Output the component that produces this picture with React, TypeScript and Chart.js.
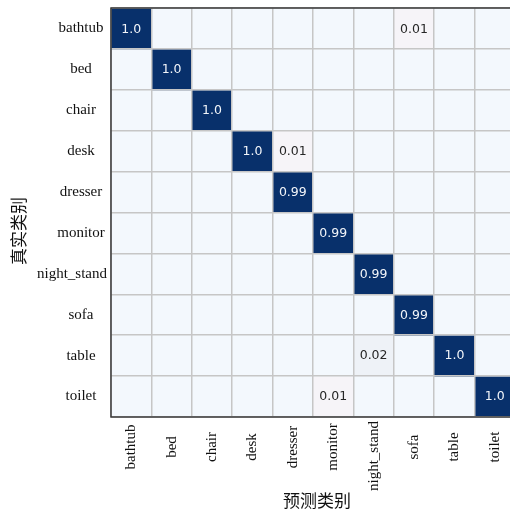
import { useEffect, useRef } from "react";
import { Chart, registerables } from "chart.js";

Chart.register(...registerables);

// Class names, shared by predicted (columns) and true (rows) axes
const classes = [
  "bathtub",
  "bed",
  "chair",
  "desk",
  "dresser",
  "monitor",
  "night_stand",
  "sofa",
  "table",
  "toilet",
];

// Normalised confusion matrix, one row per true class
const bathtubRow = [1.0, 0, 0, 0, 0, 0, 0, 0.01, 0, 0];
const bedRow = [0, 1.0, 0, 0, 0, 0, 0, 0, 0, 0];
const chairRow = [0, 0, 1.0, 0, 0, 0, 0, 0, 0, 0];
const deskRow = [0, 0, 0, 1.0, 0.01, 0, 0, 0, 0, 0];
const dresserRow = [0, 0, 0, 0, 0.99, 0, 0, 0, 0, 0];
const monitorRow = [0, 0, 0, 0, 0, 0.99, 0, 0, 0, 0];
const nightStandRow = [0, 0, 0, 0, 0, 0, 0.99, 0, 0, 0];
const sofaRow = [0, 0, 0, 0, 0, 0, 0, 0.99, 0, 0];
const tableRow = [0, 0, 0, 0, 0, 0, 0.02, 0, 1.0, 0];
const toiletRow = [0, 0, 0, 0, 0, 0.01, 0, 0, 0, 1.0];

const confusionRows = [
  bathtubRow,
  bedRow,
  chairRow,
  deskRow,
  dresserRow,
  monitorRow,
  nightStandRow,
  sofaRow,
  tableRow,
  toiletRow,
];

const xTitle = "预测类别";
const yTitle = "真实类别";

function cellColor(v: number): string {
  if (v >= 0.5) return "#08306b";
  if (v >= 0.02) return "#eef2f7";
  if (v > 0) return "#f6f4f8";
  return "#f3f8fd";
}

function formatValue(v: number): string {
  return Number.isInteger(v) ? v.toFixed(1) : String(v);
}

const labelFont = '15px "Liberation Serif", "Times New Roman", serif';
const cellFont = '12.5px "DejaVu Sans", sans-serif';
const titleFont = '17px "Noto Sans CJK SC", sans-serif';

const matrixDecor = {
  id: "matrixDecor",
  afterDraw(chart: any) {
    const { ctx, chartArea, scales } = chart;
    const xs = scales.x;
    const ys = scales.y;
    ctx.save();

    // cell value annotations
    ctx.font = cellFont;
    ctx.textAlign = "center";
    ctx.textBaseline = "middle";
    confusionRows.forEach((row, r) => {
      const meta = chart.getDatasetMeta(r);
      row.forEach((v, c) => {
        if (v <= 0) return;
        const pt = meta.data[c].getCenterPoint();
        ctx.fillStyle = v >= 0.5 ? "#f2f5f9" : "#262626";
        ctx.fillText(formatValue(v), pt.x, pt.y + 0.5);
      });
    });

    // frame
    ctx.strokeStyle = "#3a3a3a";
    ctx.lineWidth = 1.5;
    ctx.strokeRect(
      chartArea.left,
      chartArea.top,
      chartArea.right - chartArea.left,
      chartArea.bottom - chartArea.top
    );

    // row labels (true classes)
    ctx.font = labelFont;
    ctx.fillStyle = "#111";
    ctx.textAlign = "center";
    ctx.textBaseline = "middle";
    const rowLabelRight = chartArea.left - 4;
    classes.forEach((name, i) => {
      const w = ctx.measureText(name).width;
      const cx = Math.min(81, rowLabelRight - w / 2);
      ctx.fillText(name, cx, ys.getPixelForValue(i + 0.5));
    });

    // column labels (predicted classes), rotated
    const colLabelTop = chartArea.bottom + 4;
    classes.forEach((name, i) => {
      const w = ctx.measureText(name).width;
      const cy = Math.max(447, colLabelTop + w / 2);
      ctx.save();
      ctx.translate(xs.getPixelForValue(i), cy);
      ctx.rotate(-Math.PI / 2);
      ctx.fillText(name, 0, 0);
      ctx.restore();
    });

    // axis titles
    ctx.font = titleFont;
    ctx.fillStyle = "#111";
    ctx.fillText(xTitle, 317, 501);
    ctx.save();
    ctx.translate(19, 231);
    ctx.rotate(-Math.PI / 2);
    ctx.fillText(yTitle, 0, 0);
    ctx.restore();

    ctx.restore();
  },
};

export default function App() {
  const canvasRef = useRef<HTMLCanvasElement | null>(null);

  useEffect(() => {
    const canvas = canvasRef.current;
    if (!canvas) return;
    const gridColor = "#c6c6c6";

    const chart = new Chart(canvas, {
      type: "bar",
      data: {
        labels: classes,
        datasets: confusionRows.map((row, r) => ({
          label: classes[r],
          data: row.map(() => [r, r + 1]),
          backgroundColor: row.map(cellColor),
          borderWidth: 0,
          barPercentage: 1,
          categoryPercentage: 1,
        })),
      } as any,
      options: {
        responsive: false,
        animation: false,
        devicePixelRatio: 1,
        layout: { padding: { top: 8, right: 5, left: 0, bottom: 0 } },
        plugins: {
          legend: { display: false },
          tooltip: { enabled: false },
        },
        scales: {
          x: {
            type: "category",
            stacked: true,
            offset: true,
            grid: { offset: true, color: gridColor, lineWidth: 1.5, drawTicks: false, z: 1 },
            border: { display: false },
            ticks: { display: false },
            afterFit: (s: any) => {
              s.height = 94;
            },
          },
          y: {
            type: "linear",
            min: 0,
            max: 10,
            reverse: true,
            stacked: false,
            grid: { color: gridColor, lineWidth: 1.5, drawTicks: false, z: 1 },
            border: { display: false },
            ticks: { display: false, stepSize: 1 },
            afterFit: (s: any) => {
              s.width = 111;
            },
          },
        },
      } as any,
      plugins: [matrixDecor],
    });

    return () => chart.destroy();
  }, []);

  return (
    <div
      style={{
        position: "fixed",
        left: 0,
        top: 0,
        width: 510,
        height: 511,
        overflow: "hidden",
        background: "#fff",
      }}
    >
      <canvas ref={canvasRef} width={520} height={511} style={{ display: "block" }} />
    </div>
  );
}
